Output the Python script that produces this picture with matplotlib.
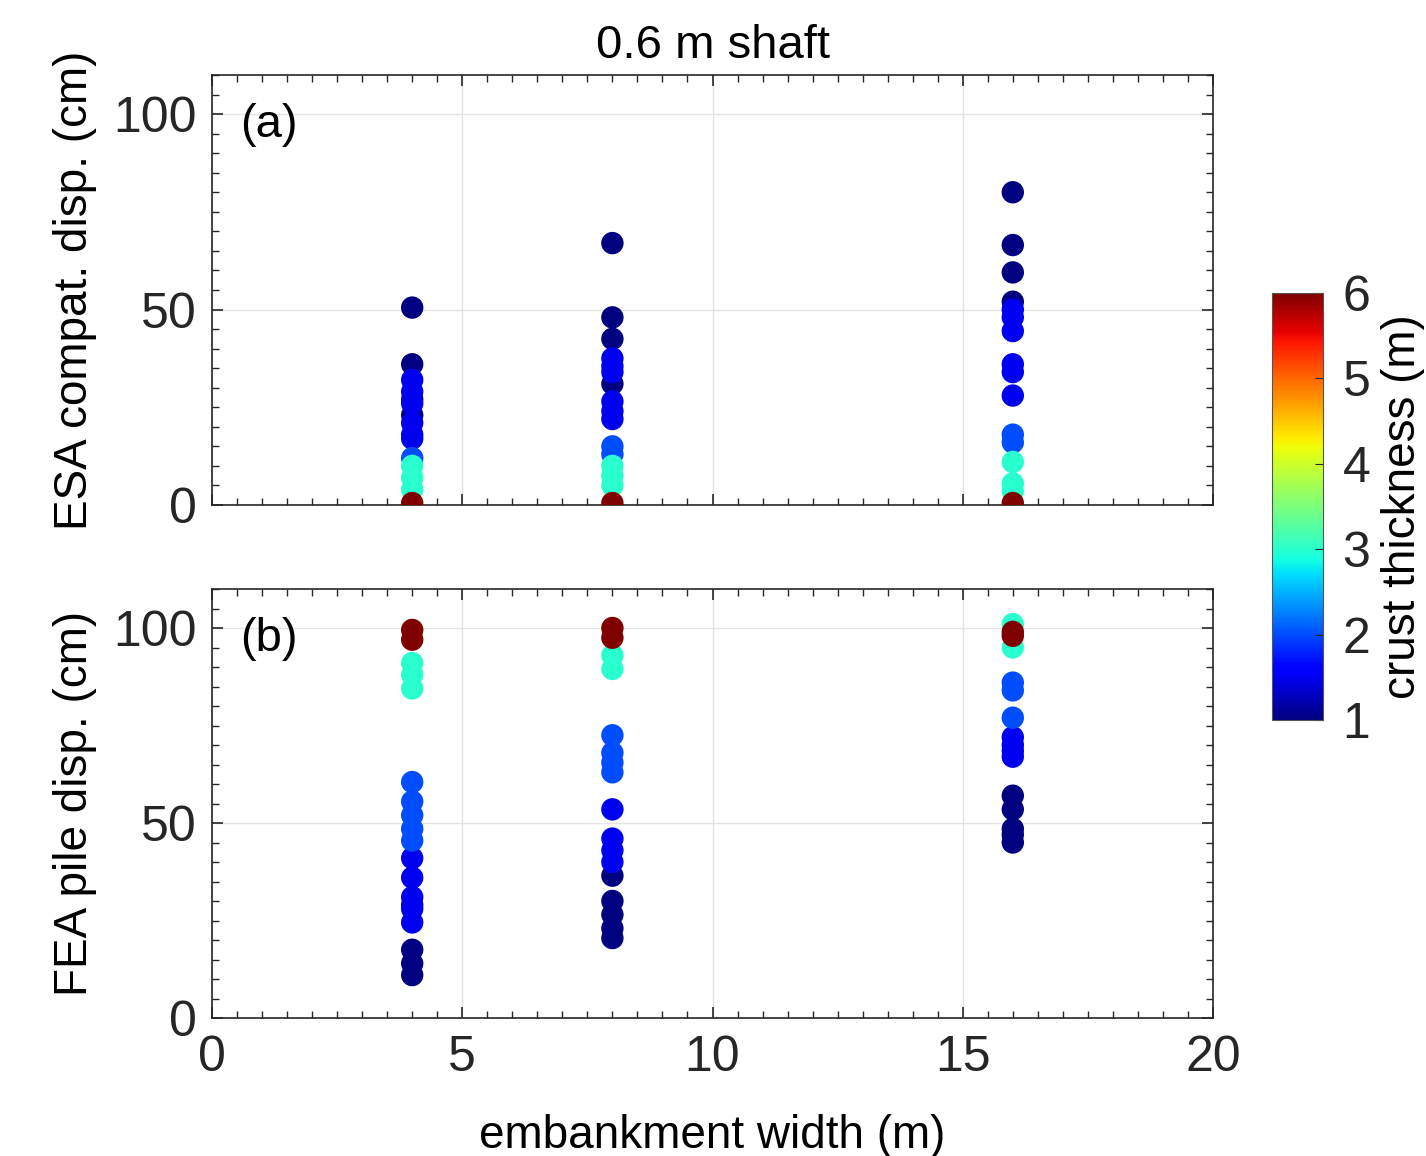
import numpy as np
import matplotlib
import matplotlib.pyplot as plt
from matplotlib.ticker import MultipleLocator

plt.rcParams['font.family'] = ['Liberation Sans', 'DejaVu Sans']

# (a) ESA compatible displacement (cm)
width_a = [4, 4, 4, 4, 4, 4, 4, 4, 4, 4, 4, 4, 4, 4, 4,
           8, 8, 8, 8, 8, 8, 8, 8, 8, 8, 8, 8, 8, 8, 8, 8,
           16, 16, 16, 16, 16, 16, 16, 16, 16, 16, 16, 16, 16, 16, 16, 16]
disp_a = [50.5, 36, 27, 23, 32, 29, 26, 21, 18, 17, 12, 10, 7, 4, 0.5,
          67, 48, 42.5, 31, 37.5, 35.5, 34, 26.5, 24, 22, 15, 13, 10, 7.5, 5, 0.5,
          80, 66.5, 59.5, 52, 50, 48, 44.5, 36, 34, 28, 18, 16, 11, 5.5, 3.5, 0.5]
crust_a = [1, 1, 1, 1, 1.5, 1.5, 1.5, 1.5, 1.5, 1.5, 2, 3, 3, 3, 6,
           1, 1, 1, 1, 1.5, 1.5, 1.5, 1.5, 1.5, 1.5, 2, 2, 3, 3, 3, 6,
           1, 1, 1, 1, 1.5, 1.5, 1.5, 1.5, 1.5, 1.5, 2, 2, 3, 3, 3, 6]

# (b) FEA pile displacement (cm)
width_b = [4, 4, 4, 4, 4, 4, 4, 4, 4, 4, 4, 4, 4, 4, 4, 4, 4, 4, 4,
           8, 8, 8, 8, 8, 8, 8, 8, 8, 8, 8, 8, 8, 8, 8, 8, 8,
           16, 16, 16, 16, 16, 16, 16, 16, 16, 16, 16, 16, 16, 16, 16, 16]
disp_b = [29, 17.5, 14, 11, 41, 36, 31, 28, 24.5, 60.5, 55.5, 52, 48.5, 45.5, 91, 88, 84.5, 99.5, 97,
          36.5, 30, 26.5, 23, 20.5, 53.5, 46, 43, 40, 72.5, 68, 65.5, 63, 93, 89.5, 100, 97.5,
          57, 53.5, 48.5, 47, 45, 72, 70, 68.5, 67, 86, 84, 77, 101, 95, 99, 98]
crust_b = [1, 1, 1, 1, 1.5, 1.5, 1.5, 1.5, 1.5, 2, 2, 2, 2, 2, 3, 3, 3, 6, 6,
           1, 1, 1, 1, 1, 1.5, 1.5, 1.5, 1.5, 2, 2, 2, 2, 3, 3, 6, 6,
           1, 1, 1, 1, 1, 1.5, 1.5, 1.5, 1.5, 2, 2, 2, 3, 3, 6, 6]

fig = plt.figure(figsize=(14.26, 11.56), dpi=100)
ax1 = fig.add_axes([212/1426, 1 - 505/1156, 1001/1426, 430/1156])
ax2 = fig.add_axes([212/1426, 1 - 1018/1156, 1001/1426, 429/1156])
cax = fig.add_axes([1272/1426, 1 - 720/1156, 51/1426, 427/1156])

tc = '#262626'
for ax, w, d, c, lab, ylab in [(ax1, width_a, disp_a, crust_a, '(a)', 'ESA compat. disp. (cm)'),
                                (ax2, width_b, disp_b, crust_b, '(b)', 'FEA pile disp. (cm)')]:
    sc = ax.scatter(w, d, c=c, cmap='jet', vmin=1, vmax=6, s=260, edgecolors='none', zorder=3)
    ax.set_xlim(0, 20)
    ax.set_ylim(0, 110)
    ax.set_yticks([0, 50, 100])
    ax.set_xticks([0, 5, 10, 15, 20])
    ax.xaxis.set_minor_locator(MultipleLocator(0.5))
    ax.yaxis.set_minor_locator(MultipleLocator(5))
    ax.grid(True, which='major', color='#e3e3e3', linewidth=1)
    ax.set_axisbelow(True)
    ax.tick_params(which='both', direction='in', top=True, right=True, colors=tc, labelsize=36)
    ax.tick_params(which='major', length=8, width=1.2)
    ax.tick_params(which='minor', length=5, width=1)
    ax.tick_params(axis='y', pad=11)
    for sp in ax.spines.values():
        sp.set_color(tc)
        sp.set_linewidth(1.2)
    ax.set_ylabel(ylab, fontsize=33, color='black', labelpad=12)
    ax.text(0.028, 0.935, lab, transform=ax.transAxes, fontsize=34, va='top', ha='left')

ax1.tick_params(labelbottom=False)
ax1.set_title('0.6 m shaft', fontsize=34, pad=12)
ax2.set_xlabel('embankment width (m)', fontsize=33, labelpad=24)
ax2.tick_params(axis='x', pad=12)

cb = fig.colorbar(sc, cax=cax)
cb.set_ticks([1, 2, 3, 4, 5, 6])
cb.ax.tick_params(direction='in', labelsize=36, colors=tc, length=6, pad=14)
cb.outline.set_edgecolor('#555555')
cb.set_label('crust thickness (m)', fontsize=33, labelpad=8)

fig.savefig('out.png', dpi=100)
